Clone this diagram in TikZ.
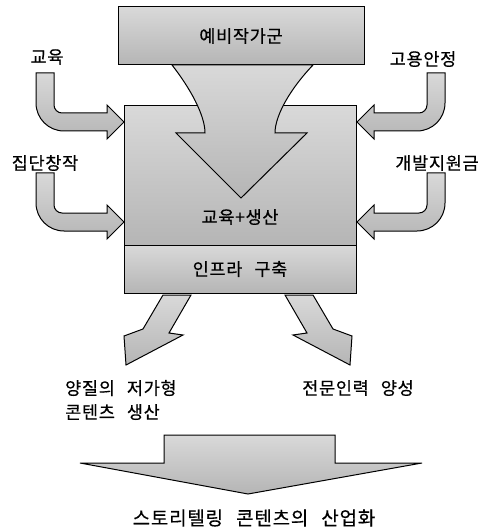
\documentclass[tikz,border=0pt]{standalone}
\usepackage{fontspec}
\newfontfamily\kr{Noto Sans CJK KR}[LetterSpace=4,WordSpace=2.6,FakeBold=0.5]
\begin{document}
\begin{tikzpicture}[x=1pt,y=-1pt,
  shapefill/.style={draw=black, line width=1pt, top color=gray!30, bottom color=gray!58},
  box/.style={shapefill, rectangle, inner sep=0pt, font=\kr\fontsize{17.5}{20}\selectfont},
  lab/.style={font=\kr\fontsize{17.5}{20}\selectfont, inner sep=0pt},
  bent/.pic={\path[shapefill] (0,0) -- (18,0) -- (18,32) .. controls (18,36.4) and (21.6,40) .. (26,40)
      -- (71,40) -- (71,32) -- (88,49) -- (71,66) -- (71,58) -- (28,58)
      .. controls (12.5,58) and (0,45.5) .. (0,30) -- cycle;}
]
\useasboundingbox (0,0) rectangle (486,529);
% main boxes
\node[box, minimum width=232pt, minimum height=139pt] (main) at (240,175.5) {};
\node[box, minimum width=232pt, minimum height=48pt] (infra) at (240,269) {인프라 구축};
\node[box, minimum width=246pt, minimum height=58pt] (top) at (241,36) {예비작가군};
% funnel arrow
\path[shapefill] (172,65) .. controls (190,88) and (205,115) .. (205,133) -- (176,133) -- (241,198)
  -- (307,133) -- (275,133) .. controls (275,115) and (291,88) .. (313,65) -- cycle;
\node[lab] (prod) at (240,217) {교육+생산};
% side bent arrows
\pic at (36,73) {bent};
\pic at (36,173) {bent};
\pic[xscale=-1] at (445,73) {bent};
\pic[xscale=-1] at (445,173) {bent};
\node[lab] (edu) at (47,57) {교육};
\node[lab] (group) at (45,163) {집단창작};
\node[lab] (emp) at (423,59) {고용안정};
\node[lab] (fund) at (437,163) {개발지원금};
% lower diagonal arrows
\path[shapefill] (163,295) -- (191,295) -- (169,333) -- (183,335) -- (126,365) -- (124,336) -- (143,329) -- cycle;
\path[shapefill] (285,295) -- (313,295) -- (333,329) -- (352,336) -- (350,365) -- (293,335) -- (307,333) -- cycle;
\node[lab, anchor=west, align=left, font=\kr\fontsize{17.5}{24}\selectfont] (cheap) at (65,400) {양질의 저가형\\콘텐츠 생산};
\node[lab] (expert) at (358,388) {전문인력 양성};
% bottom arrow
\path[shapefill] (164,435) -- (335,435) -- (335,463) -- (422,463) -- (248,494) -- (80,463) -- (164,463) -- cycle;
\node[lab, font=\kr\fontsize{19}{22}\selectfont] (ind) at (254,518) {스토리텔링 콘텐츠의 산업화};
\end{tikzpicture}
\end{document}
